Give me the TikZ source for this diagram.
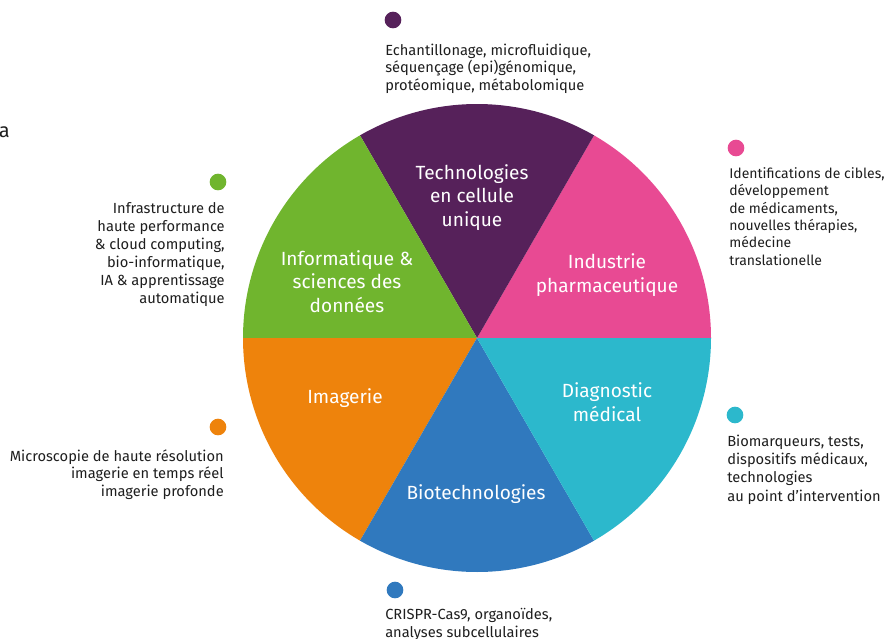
\documentclass[tikz,border=0pt]{standalone}
\usepackage{fontspec}
\setmainfont{Fira Sans}
\definecolor{cpurple}{HTML}{56215A}
\definecolor{cpink}{HTML}{E84A93}
\definecolor{ccyan}{HTML}{2CB8CC}
\definecolor{cblue}{HTML}{3079BE}
\definecolor{corange}{HTML}{EE830C}
\definecolor{cgreen}{HTML}{70B52E}
\definecolor{ctext}{HTML}{1E1E1E}
\begin{document}
\begin{tikzpicture}[x=0.75pt,y=-0.75pt,
  inlab/.style={text=white, align=center, inner sep=0pt, anchor=base, font=\fontsize{14.3}{17.6}\selectfont},
  outl/.style={text=ctext, align=left, inner sep=0pt, anchor=base west, font=\fontsize{11}{13}\selectfont},
  outr/.style={text=ctext, align=right, inner sep=0pt, anchor=base east, font=\fontsize{11}{13}\selectfont},
  dotm/.style={circle, inner sep=0pt, minimum size=12.5pt}]
\useasboundingbox (0,0) rectangle (889,639);
% pie
\begin{scope}[shift={(477,338)}, y=0.75pt]
  \fill[cpink]   (0,0) -- (0:234)   arc[start angle=0,   end angle=60,  radius=234] -- cycle;
  \fill[cpurple] (0,0) -- (60:234)  arc[start angle=60,  end angle=120, radius=234] -- cycle;
  \fill[cgreen]  (0,0) -- (120:234) arc[start angle=120, end angle=180, radius=234] -- cycle;
  \fill[corange] (0,0) -- (180:234) arc[start angle=180, end angle=240, radius=234] -- cycle;
  \fill[cblue]   (0,0) -- (240:234) arc[start angle=240, end angle=300, radius=234] -- cycle;
  \fill[ccyan]   (0,0) -- (300:234) arc[start angle=300, end angle=360, radius=234] -- cycle;
\end{scope}
% inner labels (anchor = baseline of last line)
\node[inlab] (lpurple) at (472,226) {Technologies\\en cellule\\unique};
\node[inlab] (lpink) at (607,292) {Industrie\\pharmaceutique};
\node[inlab] (lgreen) at (347,312) {Informatique \&\\sciences des\\données};
\node[inlab] (lorange) at (345,403) {Imagerie};
\node[inlab] (lcyan) at (607,421) {Diagnostic\\médical};
\node[inlab] (lblue) at (476,499) {Biotechnologies};
% dots
\node[dotm, fill=cpurple] (dpurple) at (393,20) {};
\node[dotm, fill=cpink] (dpink) at (736,148) {};
\node[dotm, fill=cgreen] (dgreen) at (218,182) {};
\node[dotm, fill=corange] (dorange) at (218,427) {};
\node[dotm, fill=ccyan] (dcyan) at (735,415) {};
\node[dotm, fill=cblue] (dblue) at (395,590) {};
% outer texts (anchor = baseline of last line)
\node[outl] (tpurple) at (385,90) {Echantillonage, microfluidique,\\séquençage (epi)génomique,\\protéomique, métabolomique};
\node[outl, font=\fontsize{10.5}{13}\selectfont] (tpink) at (729,265) {Identifications de cibles,\\développement\\de médicaments,\\nouvelles thérapies,\\médecine\\translationelle};
\node[outr, font=\fontsize{11}{13.4}\selectfont] (tgreen) at (225,303) {Infrastructure de\\haute performance\\\& cloud computing,\\bio-informatique,\\IA \& apprentissage\\automatique};
\node[outr] (torange) at (224,496) {Microscopie de haute résolution\\imagerie en temps réel\\imagerie profonde};
\node[outl, font=\fontsize{11}{13.7}\selectfont] (tcyan) at (727,501) {Biomarqueurs, tests,\\dispositifs médicaux,\\technologies\\au point d'intervention};
\node[outl] (tblue) at (385,637) {CRISPR-Cas9, organoïdes,\\analyses subcellulaires};
% stray letter at left edge
\node[text=ctext, inner sep=0pt, anchor=base east, font=\fontsize{15}{18}\selectfont] (stray) at (10,137) {a};
\end{tikzpicture}
\end{document}
